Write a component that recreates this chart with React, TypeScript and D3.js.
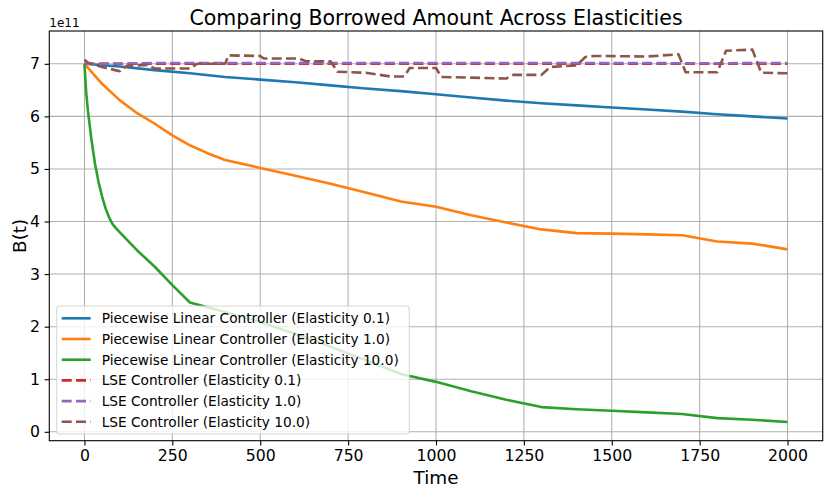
import { useEffect, useRef } from "react";
import * as d3 from "d3";

// values are in units of 1e11
const stepTime = [0, 100, 200, 300, 400, 500, 600, 700, 800, 900, 1000, 1100, 1200, 1300, 1400, 1500, 1600, 1700, 1800, 1900, 2000];

const plBlue = [7.0, 6.95, 6.88, 6.82, 6.75, 6.7, 6.65, 6.59, 6.53, 6.48, 6.42, 6.36, 6.3, 6.25, 6.21, 6.17, 6.13, 6.09, 6.04, 6.0, 5.96];

const plOrangeTime = [0, 50, 100, 150, 200, 250, 300, 350, 400, 500, 600, 700, 800, 900, 1000, 1100, 1200, 1300, 1400, 1500, 1600, 1700, 1800, 1900, 2000];
const plOrange = [7.0, 6.62, 6.31, 6.06, 5.86, 5.64, 5.45, 5.3, 5.17, 5.02, 4.87, 4.72, 4.55, 4.38, 4.28, 4.12, 3.98, 3.85, 3.78, 3.77, 3.755, 3.74, 3.62, 3.58, 3.47];

const plGreenTime = [0, 5, 10, 20, 30, 40, 50, 60, 70, 80, 90, 100, 150, 200, 250, 300, 400, 500, 600, 700, 800, 900, 1000, 1100, 1200, 1300, 1400, 1500, 1600, 1700, 1800, 1900, 2000];
const plGreen = [7.0, 6.45, 6.1, 5.55, 5.1, 4.75, 4.48, 4.25, 4.08, 3.95, 3.87, 3.8, 3.45, 3.14, 2.79, 2.46, 2.28, 2.09, 1.86, 1.62, 1.36, 1.1, 0.95, 0.77, 0.61, 0.47, 0.43, 0.4, 0.37, 0.34, 0.26, 0.23, 0.185];

const lseRed = [7.0, 7.0, 7.0, 7.0, 7.0, 7.0, 7.0, 7.0, 7.0, 7.0, 7.0, 7.0, 7.0, 7.0, 7.0, 7.0, 7.0, 7.0, 7.0, 7.0, 7.0];
const lsePurple = [7.0, 7.005, 7.015, 7.015, 7.015, 7.015, 7.015, 7.015, 7.015, 7.015, 7.015, 7.015, 7.015, 7.015, 7.015, 7.015, 7.015, 7.01, 7.01, 7.015, 7.015];

const lseBrownTime = [0, 10, 50, 100, 120, 180, 200, 300, 320, 400, 410, 500, 510, 610, 630, 700, 720, 800, 870, 910, 925, 1000, 1015, 1200, 1220, 1300, 1325, 1400, 1425, 1450, 1600, 1690, 1710, 1800, 1825, 1900, 1925, 2000];
const lseBrown = [7.08, 7.02, 6.94, 6.86, 6.96, 6.98, 6.91, 6.91, 7.0, 7.0, 7.16, 7.15, 7.1, 7.1, 7.05, 7.05, 6.85, 6.83, 6.76, 6.76, 6.92, 6.92, 6.75, 6.72, 6.79, 6.79, 6.94, 6.97, 7.13, 7.15, 7.14, 7.18, 6.84, 6.84, 7.25, 7.27, 6.83, 6.82];

const xTicks = [0, 250, 500, 750, 1000, 1250, 1500, 1750, 2000];
const yTicks = [0, 1, 2, 3, 4, 5, 6, 7];

type Series = { label: string; color: string; dashed: boolean; t: number[]; v: number[] };

const series: Series[] = [
  { label: "Piecewise Linear Controller (Elasticity 0.1)", color: "#1f77b4", dashed: false, t: stepTime, v: plBlue },
  { label: "Piecewise Linear Controller (Elasticity 1.0)", color: "#ff7f0e", dashed: false, t: plOrangeTime, v: plOrange },
  { label: "Piecewise Linear Controller (Elasticity 10.0)", color: "#2ca02c", dashed: false, t: plGreenTime, v: plGreen },
  { label: "LSE Controller (Elasticity 0.1)", color: "#d62728", dashed: true, t: stepTime, v: lseRed },
  { label: "LSE Controller (Elasticity 1.0)", color: "#9467bd", dashed: true, t: stepTime, v: lsePurple },
  { label: "LSE Controller (Elasticity 10.0)", color: "#8c564b", dashed: true, t: lseBrownTime, v: lseBrown },
];

const W = 831;
const H = 496;
const margin = { top: 31, right: 8.3, bottom: 55.3, left: 49.3 };
const FONT = "DejaVu Sans, sans-serif";
const DASH = "10,4.3";

export default function App() {
  const ref = useRef<SVGSVGElement>(null);

  useEffect(() => {
    if (!ref.current) return;
    const svg = d3.select(ref.current);
    svg.selectAll("*").remove();

    const x0 = margin.left;
    const x1 = W - margin.right;
    const y0 = H - margin.bottom;
    const y1 = margin.top;

    // matplotlib-style 5% padding
    const allT = series.flatMap((s) => s.t);
    const allV = series.flatMap((s) => s.v);
    const [tMin, tMax] = d3.extent(allT) as [number, number];
    const [vMin, vMax] = d3.extent(allV) as [number, number];
    const tPad = (tMax - tMin) * 0.05;
    const vPad = (vMax - vMin) * 0.05;

    const x = d3.scaleLinear().domain([tMin - tPad, tMax + tPad]).range([x0, x1]);
    const y = d3.scaleLinear().domain([vMin - vPad, vMax + vPad]).range([y0, y1]);

    svg.append("rect").attr("width", W).attr("height", H).attr("fill", "#fff");

    // Grid
    const grid = svg.append("g").attr("stroke", "#b0b0b0").attr("stroke-width", 1.05);
    xTicks.forEach((t) => {
      grid.append("line").attr("x1", x(t)).attr("x2", x(t)).attr("y1", y0).attr("y2", y1);
    });
    yTicks.forEach((v) => {
      grid.append("line").attr("x1", x0).attr("x2", x1).attr("y1", y(v)).attr("y2", y(v));
    });

    // Lines
    const clip = svg.append("defs").append("clipPath").attr("id", "plot-clip");
    clip.append("rect").attr("x", x0).attr("y", y1).attr("width", x1 - x0).attr("height", y0 - y1);

    const lines = svg.append("g").attr("clip-path", "url(#plot-clip)");
    series.forEach((s) => {
      const line = d3.line<number>()
        .x((_, i) => x(s.t[i]))
        .y((d) => y(d));
      lines.append("path")
        .datum(s.v)
        .attr("fill", "none")
        .attr("stroke", s.color)
        .attr("stroke-width", 2.6)
        .attr("stroke-linejoin", "round")
        .attr("stroke-dasharray", s.dashed ? DASH : null)
        .attr("d", line);
    });

    // Spines
    svg.append("rect")
      .attr("x", x0).attr("y", y1).attr("width", x1 - x0).attr("height", y0 - y1)
      .attr("fill", "none").attr("stroke", "#000").attr("stroke-width", 1.1);

    // X axis
    svg.append("g")
      .attr("transform", `translate(0,${y0})`)
      .call(d3.axisBottom(x).tickValues(xTicks).tickSize(4.7).tickPadding(4.7).tickFormat((d) => String(d)))
      .call((g) => {
        g.select(".domain").remove();
        g.selectAll(".tick line").attr("stroke", "#000").attr("stroke-width", 1.1);
        g.selectAll(".tick text").attr("fill", "#000").attr("font-family", FONT).attr("font-size", "15.7px");
      });

    // Y axis
    svg.append("g")
      .attr("transform", `translate(${x0},0)`)
      .call(d3.axisLeft(y).tickValues(yTicks).tickSize(4.7).tickPadding(4.7).tickFormat((d) => String(d)))
      .call((g) => {
        g.select(".domain").remove();
        g.selectAll(".tick line").attr("stroke", "#000").attr("stroke-width", 1.1);
        g.selectAll(".tick text").attr("fill", "#000").attr("font-family", FONT).attr("font-size", "15.7px");
      });

    // Offset text
    svg.append("text")
      .attr("x", x0).attr("y", 27)
      .attr("font-family", FONT).attr("font-size", "12px")
      .text("1e11");

    // Title and labels
    svg.append("text")
      .attr("x", (x0 + x1) / 2).attr("y", 24.5)
      .attr("text-anchor", "middle")
      .attr("font-family", FONT).attr("font-size", "20.5px")
      .text("Comparing Borrowed Amount Across Elasticities");

    svg.append("text")
      .attr("x", (x0 + x1) / 2).attr("y", 484)
      .attr("text-anchor", "middle")
      .attr("font-family", FONT).attr("font-size", "18.4px")
      .text("Time");

    svg.append("text")
      .attr("transform", `translate(26,${(y0 + y1) / 2}) rotate(-90)`)
      .attr("text-anchor", "middle")
      .attr("font-family", FONT).attr("font-size", "18.4px")
      .text("B(t)");

    // Legend
    const lx = 56.7;
    const ly = 306;
    const rowH = 20.7;
    const legend = svg.append("g");
    legend.append("rect")
      .attr("x", lx).attr("y", ly).attr("width", 352.6).attr("height", 128)
      .attr("rx", 3)
      .attr("fill", "#fff").attr("fill-opacity", 0.8)
      .attr("stroke", "#cccccc").attr("stroke-opacity", 0.8).attr("stroke-width", 1.05);

    series.forEach((s, i) => {
      const cy = ly + 12.3 + i * rowH;
      legend.append("line")
        .attr("x1", lx + 5).attr("x2", lx + 34)
        .attr("y1", cy).attr("y2", cy)
        .attr("stroke", s.color).attr("stroke-width", 2.6)
        .attr("stroke-dasharray", s.dashed ? DASH : null);
      legend.append("text")
        .attr("x", lx + 45).attr("y", cy)
        .attr("dy", "0.36em")
        .attr("font-family", FONT).attr("font-size", "13.7px")
        .text(s.label);
    });
  }, []);

  return (
    <div style={{ position: "absolute", left: 0, top: 0 }}>
      <svg ref={ref} width={W} height={H} style={{ display: "block" }} />
    </div>
  );
}
